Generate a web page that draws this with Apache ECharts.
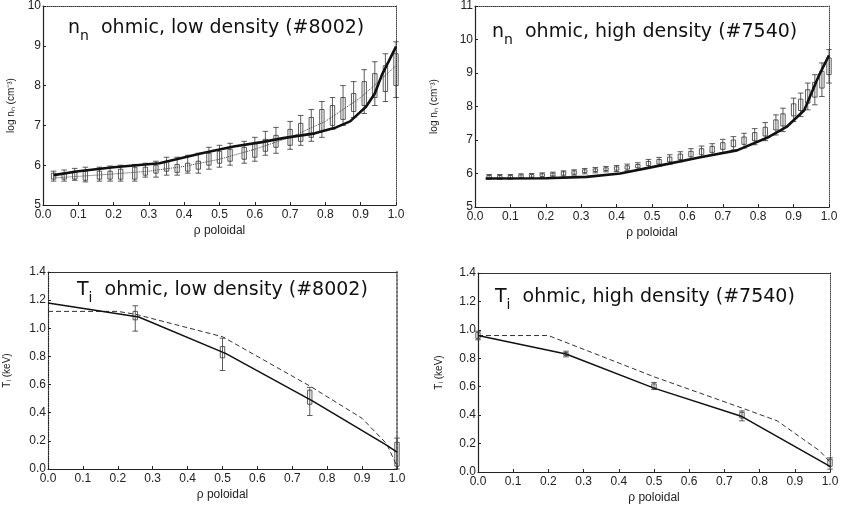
<!DOCTYPE html>
<html><head><meta charset="utf-8">
<script src="https://cdn.jsdelivr.net/npm/echarts@6/dist/echarts.min.js"></script>
<style>html,body{margin:0;padding:0;background:#fff}#c{width:842px;height:510px}</style>
</head><body><div id="c"></div>
<script>
// ---------- Panel 1: n_n ohmic, low density (#8002) ----------
const nnLowModelX = [0.03, 0.10, 0.20, 0.33, 0.45, 0.54, 0.62, 0.68, 0.77, 0.83, 0.87, 0.915, 0.94, 0.96, 0.98, 1.00];
const nnLowModelY = [5.75, 5.85, 5.95, 6.05, 6.30, 6.47, 6.58, 6.68, 6.80, 6.95, 7.10, 7.47, 7.80, 8.27, 8.62, 8.98];
const nnLowDotX = [0.03, 0.10, 0.20, 0.30, 0.40, 0.50, 0.60, 0.70, 0.80, 0.90, 0.95, 1.00];
const nnLowDotY = [5.68, 5.72, 5.78, 5.85, 5.97, 6.15, 6.40, 6.70, 7.10, 7.70, 8.10, 8.50];
const nnLowX  = [0.03,0.06,0.09,0.12,0.16,0.19,0.22,0.26,0.29,0.32,0.35,0.38,0.41,0.44,0.47,0.50,0.53,0.57,0.60,0.63,0.66,0.70,0.73,0.76,0.79,0.82,0.85,0.88,0.91,0.94,0.97,1.00];
const nnLowLo = [5.60,5.60,5.62,5.58,5.60,5.60,5.60,5.60,5.70,5.70,5.75,5.75,5.80,5.80,5.90,5.95,6.00,6.05,6.10,6.25,6.30,6.40,6.50,6.60,6.70,6.90,7.00,7.20,7.30,7.50,7.60,7.70];
const nnLowQ1 = [5.65,5.65,5.65,5.62,5.65,5.65,5.65,5.65,5.75,5.80,5.85,5.82,5.85,5.90,6.00,6.05,6.10,6.15,6.20,6.35,6.45,6.50,6.60,6.70,6.85,7.00,7.15,7.35,7.50,7.70,7.85,8.00];
const nnLowQ3 = [5.80,5.80,5.85,5.85,5.85,5.85,5.90,5.95,5.95,6.00,6.10,6.02,6.05,6.10,6.30,6.35,6.40,6.45,6.55,6.65,6.75,6.90,7.05,7.20,7.40,7.50,7.70,7.80,8.10,8.30,8.50,8.80];
const nnLowHi = [5.85,5.88,5.92,5.95,5.95,5.98,6.00,6.02,6.05,6.10,6.20,6.20,6.25,6.30,6.45,6.50,6.55,6.60,6.70,6.85,6.95,7.10,7.25,7.40,7.60,7.70,8.00,8.10,8.40,8.60,8.80,9.10];

// ---------- Panel 2: n_n ohmic, high density (#7540) ----------
const nnHighModelX = [0.03, 0.20, 0.315, 0.41, 0.50, 0.64, 0.74, 0.83, 0.88, 0.93, 0.97, 1.00];
const nnHighModelY = [5.85, 5.86, 5.90, 6.00, 6.19, 6.49, 6.69, 7.09, 7.39, 7.89, 8.89, 9.53];
const nnHighX  = [0.04,0.07,0.10,0.13,0.16,0.19,0.22,0.25,0.28,0.31,0.34,0.37,0.40,0.43,0.46,0.49,0.52,0.55,0.58,0.61,0.64,0.67,0.70,0.73,0.76,0.79,0.82,0.85,0.87,0.90,0.92,0.94,0.96,0.98,1.00];
const nnHighLo = [5.83,5.83,5.83,5.85,5.86,5.88,5.90,5.92,5.95,5.99,6.02,6.05,6.06,6.08,6.12,6.18,6.22,6.28,6.35,6.42,6.48,6.55,6.62,6.70,6.76,6.86,6.98,7.15,7.25,7.55,7.70,7.90,8.05,8.30,8.70];
const nnHighQ1 = [5.86,5.86,5.86,5.88,5.89,5.91,5.93,5.95,5.98,6.03,6.06,6.09,6.10,6.13,6.17,6.24,6.28,6.35,6.42,6.50,6.56,6.63,6.72,6.80,6.87,6.98,7.12,7.30,7.42,7.72,7.88,8.10,8.28,8.55,8.95];
const nnHighQ3 = [5.94,5.94,5.94,5.96,5.97,5.99,6.01,6.05,6.08,6.11,6.14,6.17,6.20,6.23,6.27,6.36,6.42,6.49,6.58,6.66,6.74,6.81,6.92,7.00,7.09,7.22,7.38,7.60,7.78,8.08,8.22,8.50,8.72,9.05,9.45];
const nnHighHi = [5.97,5.97,5.97,5.99,6.00,6.02,6.04,6.08,6.11,6.15,6.18,6.21,6.24,6.28,6.32,6.42,6.48,6.56,6.65,6.74,6.82,6.89,7.02,7.10,7.20,7.34,7.52,7.75,7.95,8.25,8.40,8.70,8.95,9.30,9.70];

// ---------- Panel 3: T_i ohmic, low density (#8002) ----------
const tiLowModelX = [0.0, 0.26, 0.51, 0.76, 0.97, 1.00];
const tiLowModelY = [1.18, 1.08, 0.82, 0.48, 0.17, 0.12];
const tiLowDashX  = [0.0, 0.20, 0.25, 0.50, 0.75, 0.90, 0.97, 1.00];
const tiLowDashY  = [1.12, 1.12, 1.10, 0.94, 0.59, 0.36, 0.18, 0.02];
const tiLowErrX   = [0.25, 0.50, 0.75, 1.00];
const tiLowErrLo  = [0.98, 0.70, 0.38, 0.00];
const tiLowErrQ1  = [1.06, 0.79, 0.46, 0.02];
const tiLowErrQ3  = [1.12, 0.87, 0.56, 0.19];
const tiLowErrHi  = [1.16, 0.93, 0.58, 0.22];

// ---------- Panel 4: T_i ohmic, high density (#7540) ----------
const tiHighModelX = [0.0, 0.25, 0.50, 0.75, 1.00];
const tiHighModelY = [0.96, 0.83, 0.59, 0.39, 0.04];
const tiHighDashX  = [0.0, 0.20, 0.50, 0.75, 0.85, 0.97, 1.00];
const tiHighDashY  = [0.96, 0.96, 0.67, 0.45, 0.36, 0.15, 0.07];
const tiHighErrX   = [0.00, 0.25, 0.50, 0.75, 1.00];
const tiHighErrLo  = [0.93, 0.81, 0.58, 0.36, 0.02];
const tiHighErrQ1  = [0.94, 0.82, 0.59, 0.38, 0.04];
const tiHighErrQ3  = [0.98, 0.84, 0.62, 0.42, 0.09];
const tiHighErrHi  = [0.99, 0.85, 0.63, 0.43, 0.10];

// ---------- Axis texts ----------
const xAxisName = 'ρ poloidal';
const yNameNn = 'log nₙ (cm⁻³)';
const yNameTi = 'Tᵢ (keV)';
const titles = [
  ['n', 'n', '  ohmic, low density (#8002)'],
  ['n', 'n', '  ohmic, high density (#7540)'],
  ['T', 'i', '  ohmic, low density (#8002)'],
  ['T', 'i', '  ohmic, high density (#7540)']
];

const zip = (xs, ys) => xs.map((x, i) => [x, ys[i]]);
const zip5 = (xs, a, b, c, d) => xs.map((x, i) => [x, a[i], b[i], c[i], d[i]]);

const FONT = 'Liberation Sans, Arial, sans-serif';
const grids = [
  {left: 43, top: 6, width: 353, height: 199},
  {left: 475, top: 6, width: 354, height: 201},
  {left: 48, top: 272, width: 349, height: 197},
  {left: 478, top: 273, width: 352, height: 199}
];
const yRanges = [[5, 10, 1], [5, 11, 1], [0, 1.4, 0.2], [0, 1.4, 0.2]];
const yNames = [yNameNn, yNameNn, yNameTi, yNameTi];
const yNameGaps = [27, 36, 36, 34];
const xNameGaps = [20, 20, 20, 20];
const titlePos = [[68, 13], [492, 17], [77, 275], [495, 282]];

function errRender(params, api) {
  const x = api.value(0);
  const pLo = api.coord([x, api.value(1)]);
  const pQ1 = api.coord([x, api.value(2)]);
  const pQ3 = api.coord([x, api.value(3)]);
  const pHi = api.coord([x, api.value(4)]);
  const hw = 2.2, cw = 2.8;
  const st = {stroke: '#333', lineWidth: 0.8, fill: 'transparent'};
  return {type: 'group', children: [
    {type: 'line', shape: {x1: pLo[0], y1: pLo[1], x2: pHi[0], y2: pHi[1]}, style: st},
    {type: 'line', shape: {x1: pHi[0] - cw, y1: pHi[1], x2: pHi[0] + cw, y2: pHi[1]}, style: st},
    {type: 'line', shape: {x1: pLo[0] - cw, y1: pLo[1], x2: pLo[0] + cw, y2: pLo[1]}, style: st},
    {type: 'rect', shape: {x: pQ3[0] - hw, y: pQ3[1], width: 2 * hw, height: pQ1[1] - pQ3[1]}, style: st}
  ]};
}

const xAxes = [], yAxes = [];
grids.forEach((g, i) => {
  xAxes.push({
    type: 'value', gridIndex: i, min: 0, max: 1, interval: 0.1, position: 'bottom',
    name: xAxisName, nameLocation: 'middle', nameGap: xNameGaps[i],
    nameTextStyle: {fontFamily: FONT, fontSize: 12, color: '#222'},
    axisLine: {onZero: false, lineStyle: {color: '#222', width: 1.2}},
    axisTick: {inside: true, length: 3, lineStyle: {color: '#222'}},
    axisLabel: {fontFamily: FONT, fontSize: 12, color: '#222', margin: 4, formatter: v => v.toFixed(1)},
    splitLine: {show: false}
  });
  yAxes.push({
    type: 'value', gridIndex: i, min: yRanges[i][0], max: yRanges[i][1], interval: yRanges[i][2],
    name: yNames[i], nameLocation: 'middle', nameGap: yNameGaps[i], nameRotate: 90,
    nameTextStyle: {fontFamily: FONT, fontSize: 10, color: '#222'},
    axisLine: {onZero: false, lineStyle: {color: '#222', width: 1.2, type: i === 2 ? 'dotted' : 'solid'}},
    axisTick: {inside: true, length: 3, lineStyle: {color: '#222'}},
    axisLabel: {fontFamily: FONT, fontSize: 12, color: '#222', margin: 2,
      formatter: v => (i >= 2 ? v.toFixed(1) : String(v))},
    splitLine: {show: false}
  });
});
// frame axes (top / right)
grids.forEach((g, i) => {
  xAxes.push({
    type: 'value', gridIndex: i, min: 0, max: 1, position: 'top',
    axisLine: {onZero: false, lineStyle: {color: '#333', width: i >= 2 ? 1.2 : 1, type: i >= 2 ? 'solid' : 'dotted'}},
    axisTick: {show: false}, axisLabel: {show: false}, splitLine: {show: false}
  });
  yAxes.push({
    type: 'value', gridIndex: i, min: yRanges[i][0], max: yRanges[i][1], position: 'right',
    axisLine: {onZero: false, lineStyle: {color: i === 2 ? '#777' : '#444', width: i === 2 ? 2 : 1, type: 'dotted'}},
    axisTick: {show: false}, axisLabel: {show: false}, splitLine: {show: false}
  });
});

const lineS = (idx, data, w, type, color) => ({
  type: 'line', xAxisIndex: idx, yAxisIndex: idx, data, showSymbol: false, symbol: 'none',
  lineStyle: {color: color || '#111', width: w, type: type || 'solid'}, z: 5, animation: false, silent: true
});
const errS = (idx, data) => ({
  type: 'custom', xAxisIndex: idx, yAxisIndex: idx, data, renderItem: errRender,
  encode: {x: 0, y: [1, 2, 3, 4]}, z: 3, animation: false, silent: true
});

const series = [
  errS(0, zip5(nnLowX, nnLowLo, nnLowQ1, nnLowQ3, nnLowHi)),
  lineS(0, zip(nnLowDotX, nnLowDotY), 1, 'dotted', '#444'),
  lineS(0, zip(nnLowModelX, nnLowModelY), 2.6),
  errS(1, zip5(nnHighX, nnHighLo, nnHighQ1, nnHighQ3, nnHighHi)),
  lineS(1, zip(nnHighModelX, nnHighModelY), 2.6),
  errS(2, zip5(tiLowErrX, tiLowErrLo, tiLowErrQ1, tiLowErrQ3, tiLowErrHi)),
  lineS(2, zip(tiLowDashX, tiLowDashY), 1, [5, 3], '#333'),
  lineS(2, zip(tiLowModelX, tiLowModelY), 1.5),
  errS(3, zip5(tiHighErrX, tiHighErrLo, tiHighErrQ1, tiHighErrQ3, tiHighErrHi)),
  lineS(3, zip(tiHighDashX, tiHighDashY), 1, [5, 3], '#333'),
  lineS(3, zip(tiHighModelX, tiHighModelY), 1.5)
];

const title = titles.map((t, i) => ({
  left: titlePos[i][0], top: titlePos[i][1], padding: 0,
  text: '{m|' + t[0] + '}{s|' + t[1] + '}{m|' + t[2] + '}',
  textStyle: {
    fontWeight: 'normal',
    rich: {
      m: {fontFamily: 'DejaVu Sans', fontSize: 19, fontWeight: 'normal', lineHeight: 30, color: '#111'},
      s: {fontFamily: 'DejaVu Sans', fontSize: 14, fontWeight: 'normal', lineHeight: 14, verticalAlign: 'bottom', color: '#111'}
    }
  }
}));

const chart = echarts.init(document.getElementById('c'), null, {renderer: 'canvas'});
chart.setOption({
  animation: false,
  backgroundColor: '#fff',
  title,
  grid: grids.map(g => Object.assign({containLabel: false}, g)),
  xAxis: xAxes,
  yAxis: yAxes,
  series
});
</script></body></html>
